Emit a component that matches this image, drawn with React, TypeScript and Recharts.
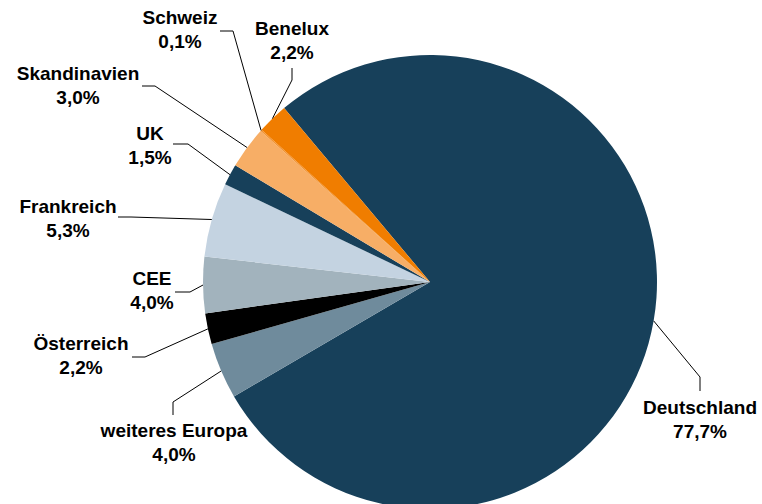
import React from 'react';
import { PieChart, Pie, Cell } from 'recharts';

const regions = ['Deutschland', 'weiteres Europa', 'Österreich', 'CEE', 'Frankreich', 'UK', 'Skandinavien', 'Schweiz', 'Benelux'];
const shares = [77.7, 4.0, 2.2, 4.0, 5.3, 1.5, 3.0, 0.1, 2.2];
const colors = ['#17405a', '#6f8b9c', '#000000', '#a2b3bd', '#c4d3e1', '#17405a', '#f7ae66', '#f39433', '#f07d00'];

const data = regions.map((name, i) => ({ name, value: shares[i] }));

// label placement relative to pie centre: text (centre x, first baseline), leader end near text, leader elbow
const LABEL_LAYOUT: Record<string, { tx: number; ty: number; p1: [number, number]; p2: [number, number] }> = {
  'Deutschland': { tx: 270, ty: 132, p1: [270, 109], p2: [270, 95] },
  'weiteres Europa': { tx: -256, ty: 155, p1: [-257, 133], p2: [-257, 120] },
  'Österreich': { tx: -349, ty: 68, p1: [-298, 75], p2: [-285, 75] },
  'CEE': { tx: -278, ty: 3, p1: [-255, 10], p2: [-240, 10] },
  'Frankreich': { tx: -362, ty: -69, p1: [-312, -65], p2: [-299, -65] },
  'UK': { tx: -280, ty: -142, p1: [-257, -138], p2: [-242, -138] },
  'Skandinavien': { tx: -352, ty: -202, p1: [-288, -196], p2: [-275, -196] },
  'Schweiz': { tx: -250, ty: -258, p1: [-210, -251], p2: [-197, -251] },
  'Benelux': { tx: -138, ty: -247, p1: [-138, -214], p2: [-138, -202] },
};

const RAD = Math.PI / 180;

const renderLabel = (props: any) => {
  const { cx, cy, midAngle, outerRadius, name, value } = props;
  const lay = LABEL_LAYOUT[name];
  if (!lay) return null;
  const ex = cx + outerRadius * Math.cos(-midAngle * RAD);
  const ey = cy + outerRadius * Math.sin(-midAngle * RAD);
  const pts = `${cx + lay.p1[0]},${cy + lay.p1[1]} ${cx + lay.p2[0]},${cy + lay.p2[1]} ${ex},${ey}`;
  const pct = value.toFixed(1).replace('.', ',') + '%';
  return (
    <g>
      <polyline points={pts} fill="none" stroke="#000" strokeWidth={1} />
      <text
        x={cx + lay.tx}
        y={cy + lay.ty}
        textAnchor="middle"
        fontFamily="'Liberation Sans', Arial, sans-serif"
        fontWeight="bold"
        fontSize={19}
        fill="#000"
      >
        <tspan x={cx + lay.tx}>{name}</tspan>
        <tspan x={cx + lay.tx} dy={24}>{pct}</tspan>
      </text>
    </g>
  );
};

export default function App() {
  return (
    <div style={{ position: 'absolute', left: 0, top: 0, width: 762, height: 504, background: '#fff' }}>
      <PieChart width={762} height={504} margin={{ top: 0, right: 0, bottom: 0, left: 0 }}>
        <Pie
          data={data}
          dataKey="value"
          nameKey="name"
          cx={430}
          cy={282}
          outerRadius={227}
          startAngle={130}
          endAngle={-230}
          stroke="none"
          label={renderLabel}
          labelLine={false}
          isAnimationActive={false}
        >
          {data.map((entry, i) => (
            <Cell key={entry.name} fill={colors[i]} />
          ))}
        </Pie>
      </PieChart>
    </div>
  );
}
